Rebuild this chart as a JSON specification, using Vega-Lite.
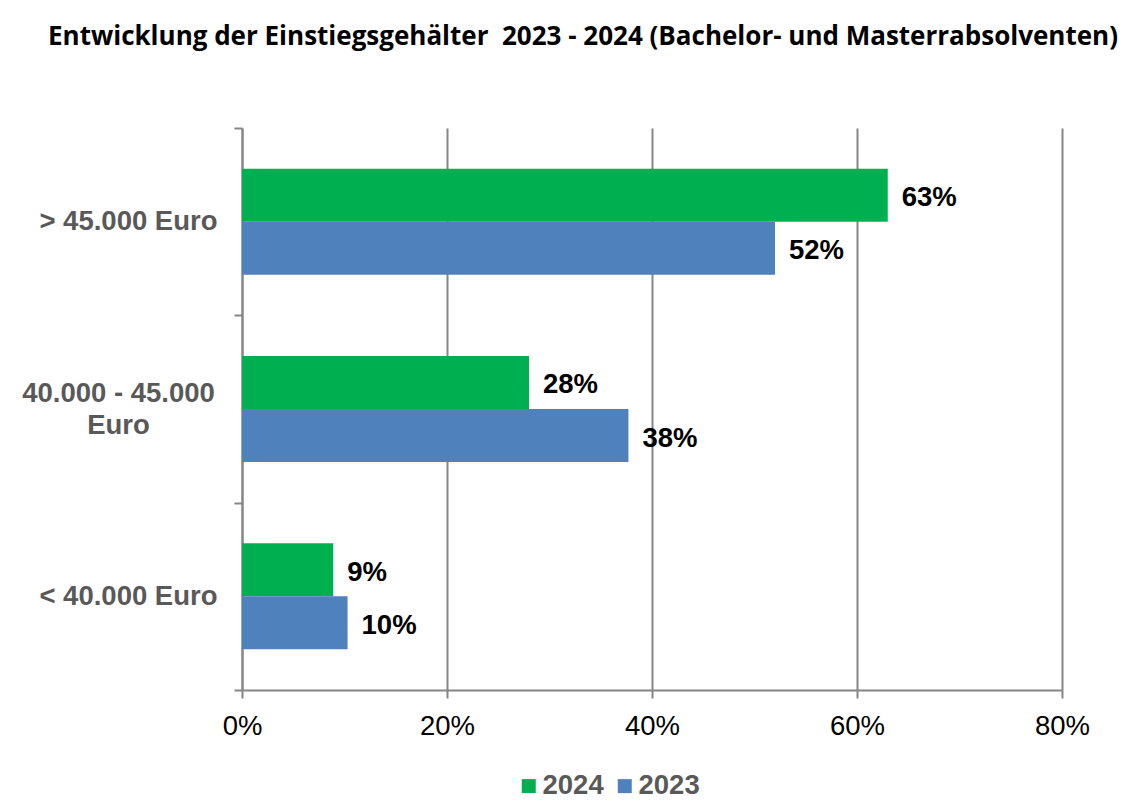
{
  "$schema": "https://vega.github.io/schema/vega-lite/v6.json",
  "width": 820,
  "height": 562,
  "autosize": {"type": "none"},
  "padding": {"left": 242, "top": 128, "right": 85, "bottom": 113},
  "background": "white",
  "title": {
    "text": "Entwicklung der Einstiegsgehälter \u00a02023 - 2024 (Bachelor- und Masterrabsolventen)",
    "font": "Open Sans",
    "fontSize": 26,
    "fontWeight": "bold",
    "color": "#000000",
    "anchor": "middle",
    "dx": -69,
    "offset": 64
  },
  "data": {
    "values": [
      {"category": "> 45.000 Euro", "year": "2024", "value": 0.63, "label": "63%"},
      {"category": "> 45.000 Euro", "year": "2023", "value": 0.52, "label": "52%"},
      {"category": "40.000 - 45.000 Euro", "year": "2024", "value": 0.28, "label": "28%"},
      {"category": "40.000 - 45.000 Euro", "year": "2023", "value": 0.377, "label": "38%"},
      {"category": "< 40.000 Euro", "year": "2024", "value": 0.089, "label": "9%"},
      {"category": "< 40.000 Euro", "year": "2023", "value": 0.103, "label": "10%"}
    ]
  },
  "encoding": {
    "y": {
      "field": "category",
      "type": "nominal",
      "sort": ["> 45.000 Euro", "40.000 - 45.000 Euro", "< 40.000 Euro"],
      "scale": {"paddingInner": 0, "paddingOuter": 0},
      "axis": {
        "title": null,
        "domainColor": "#868686",
        "domainWidth": 2,
        "tickColor": "#868686",
        "tickWidth": 2,
        "tickSize": 8,
        "tickBand": "extent",
        "labelFont": "Arial",
        "labelFontSize": 27.5,
        "labelFontWeight": "bold",
        "labelColor": "#595959",
        "labelPadding": {"condition": {"test": "datum.label == '40.000 - 45.000 Euro'", "value": 116}, "value": 17},
        "labelAlign": {"condition": {"test": "datum.label == '40.000 - 45.000 Euro'", "value": "center"}, "value": "right"},
        "labelOffset": {"condition": {"test": "datum.label == '40.000 - 45.000 Euro'", "value": -16}, "value": 0},
        "labelLineHeight": 32,
        "labelLimit": 400,
        "labelExpr": "datum.label == '40.000 - 45.000 Euro' ? ['40.000 - 45.000', 'Euro'] : datum.label"
      }
    },
    "yOffset": {
      "field": "year",
      "type": "nominal",
      "sort": ["2024", "2023"],
      "scale": {"paddingInner": 0, "paddingOuter": 0.767}
    },
    "x": {
      "field": "value",
      "type": "quantitative",
      "scale": {"domain": [0, 0.8], "nice": false},
      "axis": {
        "title": null,
        "format": ".0%",
        "values": [0, 0.2, 0.4, 0.6, 0.8],
        "grid": true,
        "gridColor": "#868686",
        "gridWidth": 2,
        "domainColor": "#868686",
        "domainWidth": 2,
        "tickColor": "#868686",
        "tickWidth": 2,
        "tickSize": 8,
        "labelFont": "Arial",
        "labelFontSize": 27.5,
        "labelColor": "#000000",
        "labelPadding": 14,
        "labelFlush": false
      }
    }
  },
  "layer": [
    {
      "mark": {"type": "bar"},
      "encoding": {
        "color": {
          "field": "year",
          "type": "nominal",
          "sort": ["2024", "2023"],
          "scale": {"domain": ["2024", "2023"], "range": ["#00B050", "#4F81BD"]},
          "legend": {
            "title": null,
            "orient": "none",
            "direction": "horizontal",
            "legendX": 273,
            "legendY": 644,
            "symbolType": "square",
            "symbolSize": 196,
            "symbolStrokeWidth": 0,
            "labelFont": "Arial",
            "labelFontSize": 27.5,
            "labelFontWeight": "bold",
            "labelColor": "#595959",
            "labelOffset": 0,
            "columnPadding": 7,
            "padding": 0
          }
        }
      }
    },
    {
      "mark": {
        "type": "text",
        "align": "left",
        "baseline": "middle",
        "dx": 14,
        "dy": 3,
        "font": "Arial",
        "fontSize": 27.5,
        "fontWeight": "bold",
        "color": "#000000"
      },
      "encoding": {
        "text": {"field": "label"}
      }
    }
  ],
  "config": {
    "view": {"stroke": null}
  }
}
